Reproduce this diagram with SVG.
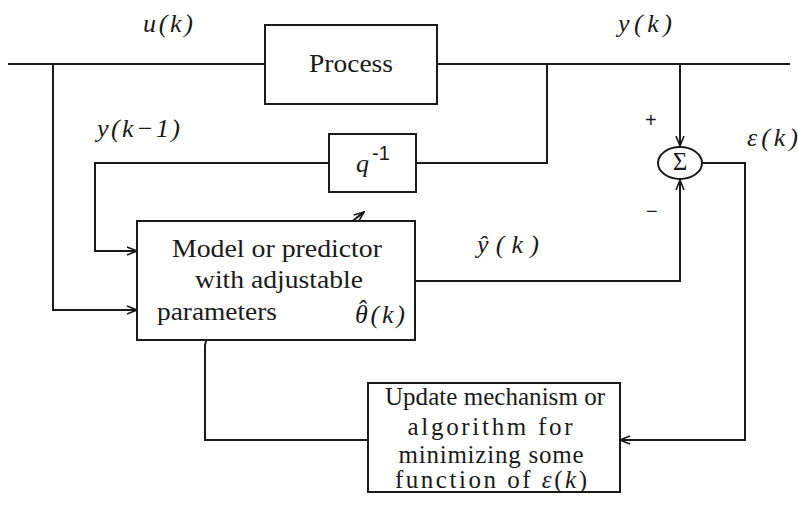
<svg xmlns="http://www.w3.org/2000/svg" width="798" height="507" viewBox="0 0 798 507">
<style>
.box{fill:#fff;stroke:#1a1a1a;stroke-width:2}
.ln{fill:none;stroke:#1a1a1a;stroke-width:2}
.t{font-family:"Liberation Serif","Times New Roman",serif;font-size:25px;fill:#1a1a1a;text-anchor:middle}
.m{font-family:"Liberation Serif","Times New Roman",serif;font-size:26px;font-style:italic;fill:#1a1a1a}
.s{font-family:"Liberation Sans",Arial,sans-serif;font-size:20px;fill:#1a1a1a}
</style>
<defs>
<marker id="ar" markerWidth="12" markerHeight="10" refX="11" refY="5" orient="auto" markerUnits="userSpaceOnUse">
<path d="M1,1 L11,5 L1,9" fill="none" stroke="#1a1a1a" stroke-width="1.6"/>
<path d="M1,5 L11,5" stroke="#1a1a1a" stroke-width="1.6"/>
</marker>
</defs>
<rect width="798" height="507" fill="#fff"/>
<g id="connectors">
<path class="ln" d="M8,64 H265"/>
<path class="ln" d="M437,64 H790"/>
<path class="ln" d="M53,64 V310 H137" marker-end="url(#ar)"/>
<path class="ln" d="M329,163 H95 V251 H137" marker-end="url(#ar)"/>
<path class="ln" d="M416,163 H547 V64"/>
<path class="ln" d="M680,64 V146" marker-end="url(#ar)"/>
<path class="ln" d="M415,281 H680 V180" marker-end="url(#ar)"/>
<path class="ln" d="M702,163 H745 V440 H620" marker-end="url(#ar)"/>
<path class="ln" d="M368,440 H205 V345 Q206,338 213,333 L238,318"/>
<path class="ln" d="M326,242 L364,212" marker-end="url(#ar)"/>
</g>
<g id="process">
<rect class="box" x="265" y="25" width="172" height="79"/>
<text class="t" x="351" y="72" textLength="84" lengthAdjust="spacingAndGlyphs">Process</text>
</g>
<g id="delay">
<rect class="box" x="329" y="134" width="87" height="58"/>
<text class="m" x="356" y="172">q</text>
<text class="s" x="372" y="160" font-size="15">-1</text>
</g>
<g id="model">
<rect class="box" x="137" y="221" width="278" height="119"/>
<text class="t" x="277" y="257" textLength="210" lengthAdjust="spacingAndGlyphs">Model or predictor</text>
<text class="t" x="279" y="288" textLength="168" lengthAdjust="spacingAndGlyphs">with adjustable</text>
<text class="t" x="217" y="320" text-anchor="start" textLength="120" lengthAdjust="spacingAndGlyphs">parameters</text>
<text class="m" x="355" y="323" textLength="50" lengthAdjust="spacing">θ(k)</text>
<text class="m" x="357" y="318" font-size="20" font-style="normal">ˆ</text>
</g>
<g id="sum">
<ellipse cx="680" cy="163" rx="22" ry="16" fill="#fff" stroke="#1a1a1a" stroke-width="2"/>
<text class="t" x="680" y="170" font-size="19">Σ</text>
</g>
<g id="update">
<rect class="box" x="368" y="383" width="252" height="109"/>
<text class="t" x="495" y="405" font-size="26" textLength="220" lengthAdjust="spacing">Update mechanism or</text>
<text class="t" x="490" y="435" font-size="26" textLength="165" lengthAdjust="spacing">algorithm for</text>
<text class="t" x="491" y="463" font-size="26" textLength="185" lengthAdjust="spacing">minimizing some</text>
<text class="t" x="491" y="488" font-size="26" textLength="192" lengthAdjust="spacing">function of <tspan font-style="italic">ε</tspan>(<tspan font-style="italic">k</tspan>)</text>
</g>
<g id="labels">
<text class="m" x="143" y="32" textLength="50" lengthAdjust="spacing">u(k)</text>
<text class="m" x="618" y="32" textLength="54" lengthAdjust="spacing">y(k)</text>
<text class="m" x="97" y="137" textLength="83" lengthAdjust="spacing">y(k−1)</text>
<text class="m" x="477" y="253" textLength="62" lengthAdjust="spacing">ŷ(k)</text>
<text class="m" x="747" y="146" textLength="51" lengthAdjust="spacing">ε(k)</text>
<text class="s" x="645" y="127">+</text>
<text class="s" x="646" y="218">−</text>
</g>
</svg>
